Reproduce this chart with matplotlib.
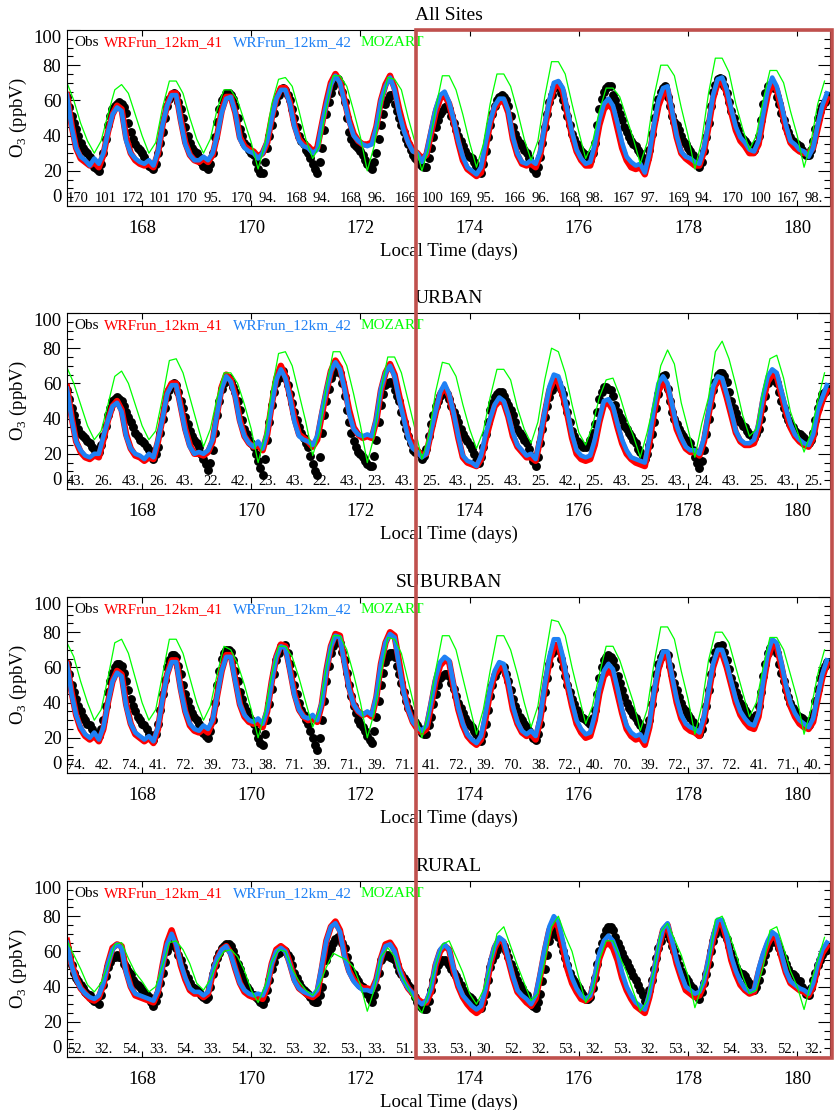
import numpy as np
import matplotlib.pyplot as plt
from matplotlib.patches import Rectangle

plt.rcParams['font.family'] = 'Liberation Serif'
plt.rcParams['mathtext.fontset'] = 'custom'
plt.rcParams['mathtext.rm'] = 'Liberation Serif'

# local time axis: obs hourly, WRF every 2 h, MOZART every 3 h
t_start = 166.625
t_end = 180.6

# ---------------- All Sites ----------------
obs_all = [
    62, 56, 51, 47, 44, 40, 36, 33, 31, 30, 28, 25, 22, 21, 20, 24, 30, 38, 46, 51, 55, 57, 58, 59,
    58, 56, 53, 47, 42, 38, 35, 33, 32, 30, 28, 25, 23, 22, 21, 24, 30, 36, 42, 50, 57, 61, 63, 64,
    63, 59, 55, 50, 45, 40, 36, 33, 31, 30, 28, 25, 23, 22, 21, 24, 30, 39, 48, 55, 60, 62, 64, 64,
    63, 61, 57, 50, 44, 40, 36, 34, 32, 30, 29, 25, 21, 19, 19, 25, 33, 40, 46, 53, 59, 63, 66, 67,
    66, 63, 60, 55, 50, 45, 40, 37, 35, 32, 30, 27, 24, 21, 19, 25, 33, 43, 52, 59, 64, 68, 71, 72,
    70, 65, 59, 50, 42, 38, 35, 34, 33, 31, 29, 26, 24, 22, 21, 25, 30, 38, 46, 52, 58, 61, 63, 63,
    58, 54, 50, 46, 42, 38, 35, 32, 29, 27, 26, 24, 23, 22, 22, 27, 33, 39, 45, 49, 52, 54, 56, 57,
    55, 51, 47, 43, 40, 37, 34, 31, 29, 28, 27, 25, 23, 21, 19, 24, 31, 39, 46, 52, 57, 60, 62, 63,
    62, 60, 57, 51, 45, 41, 38, 36, 34, 32, 30, 27, 24, 21, 19, 22, 28, 36, 45, 52, 59, 63, 67, 69,
    68, 64, 60, 56, 51, 46, 41, 38, 35, 33, 31, 30, 29, 28, 26, 30, 36, 46, 55, 61, 65, 67, 68, 68,
    63, 60, 56, 52, 49, 45, 42, 39, 37, 35, 34, 32, 30, 27, 24, 27, 32, 41, 50, 56, 61, 65, 67, 68,
    62, 57, 51, 48, 46, 43, 40, 37, 35, 33, 31, 29, 27, 24, 22, 25, 31, 39, 47, 57, 65, 69, 72, 73,
    72, 68, 64, 59, 54, 50, 46, 43, 40, 38, 37, 35, 33, 32, 32, 35, 40, 49, 58, 64, 68, 69, 69, 67,
    62, 58, 53, 49, 45, 42, 39, 37, 36, 35, 34, 32, 30, 29, 29, 32, 37, 44, 50, 54, 57, 59, 61, 62,
]
wrf41_all = [
    63, 46, 33, 27, 25, 23, 25, 22, 29, 42, 52, 57,
    55, 39, 30, 26, 24, 23, 24, 22, 30, 46, 57, 64,
    64, 49, 36, 29, 26, 25, 27, 25, 29, 40, 54, 62,
    62, 53, 39, 34, 32, 31, 28, 30, 36, 50, 61, 67,
    67, 59, 46, 38, 35, 34, 31, 33, 46, 59, 70, 75,
    71, 60, 49, 41, 37, 35, 35, 36, 45, 60, 69, 74,
    67, 55, 45, 37, 32, 30, 27, 29, 41, 53, 61, 63,
    58, 48, 36, 26, 21, 19, 17, 19, 33, 47, 56, 59,
    60, 53, 38, 29, 24, 23, 24, 22, 29, 44, 58, 67,
    70, 65, 52, 40, 31, 26, 23, 23, 32, 46, 55, 58,
    55, 44, 33, 26, 22, 21, 22, 18, 28, 44, 57, 64,
    66, 52, 39, 30, 27, 25, 23, 23, 31, 45, 61, 70,
    71, 64, 53, 43, 37, 34, 30, 30, 35, 50, 63, 70,
    66, 56, 44, 36, 33, 31, 30, 30, 33, 44, 55, 61,
]
wrf42_all = [
    63, 45, 33, 28, 26, 23, 27, 24, 30, 42, 52, 56,
    54, 37, 30, 27, 25, 24, 26, 23, 31, 46, 57, 63,
    63, 48, 35, 29, 26, 26, 28, 26, 30, 40, 53, 61,
    62, 53, 38, 33, 31, 30, 27, 30, 37, 50, 61, 66,
    66, 58, 45, 37, 34, 33, 30, 32, 46, 58, 69, 74,
    70, 59, 48, 40, 37, 35, 34, 35, 45, 60, 68, 73,
    66, 53, 43, 36, 31, 30, 25, 30, 43, 55, 63, 65,
    59, 49, 37, 28, 22, 20, 18, 22, 36, 48, 57, 61,
    61, 54, 39, 30, 25, 24, 26, 24, 31, 46, 60, 70,
    71, 67, 54, 42, 32, 27, 24, 25, 35, 49, 58, 61,
    57, 47, 36, 28, 25, 23, 24, 19, 30, 46, 60, 67,
    68, 54, 40, 31, 28, 27, 25, 24, 33, 47, 63, 72,
    73, 66, 55, 45, 39, 36, 32, 31, 37, 52, 66, 73,
    68, 58, 46, 37, 35, 32, 31, 28, 33, 46, 57, 64,
]
moz_all = [
    70, 60, 47, 37, 30, 37, 52, 66,
    69, 64, 52, 40, 30, 36, 56, 71,
    71, 64, 50, 38, 30, 38, 55, 66,
    66, 60, 48, 36, 21, 35, 58, 72,
    73, 68, 54, 38, 27, 34, 56, 74,
    74, 68, 54, 39, 20, 34, 56, 73,
    72, 66, 50, 36, 20, 33, 55, 74,
    74, 66, 52, 36, 22, 35, 58, 75,
    75, 68, 54, 38, 26, 37, 62, 82,
    82, 75, 58, 42, 27, 36, 54, 67,
    67, 62, 50, 38, 24, 36, 62, 80,
    80, 74, 56, 40, 21, 37, 64, 84,
    84, 76, 58, 44, 32, 40, 60, 77,
    77, 70, 54, 40, 22, 36, 58, 71,
]
n_all = [170, 101, 172, 101, 170, 95, 170, 94, 168, 94, 168, 96, 166, 100,
         169, 95, 166, 96, 168, 98, 167, 97, 169, 94, 170, 100, 167, 98]

# ---------------- URBAN ----------------
obs_urban = [
    56, 51, 46, 42, 38, 34, 31, 30, 29, 27, 26, 24, 23, 22, 21, 25, 30, 36, 42, 46, 50, 51, 52, 51,
    50, 47, 44, 41, 38, 35, 32, 30, 28, 27, 26, 24, 22, 19, 17, 20, 24, 32, 40, 46, 52, 56, 59, 60,
    59, 55, 50, 46, 41, 37, 33, 30, 28, 26, 24, 20, 17, 14, 11, 15, 22, 32, 42, 50, 57, 60, 62, 63,
    61, 58, 55, 50, 45, 39, 34, 31, 28, 26, 24, 20, 16, 12, 8, 17, 28, 38, 48, 55, 60, 63, 66, 67,
    63, 59, 54, 49, 44, 39, 35, 32, 29, 26, 24, 19, 14, 10, 8, 18, 32, 42, 50, 57, 63, 66, 68, 69,
    66, 60, 53, 45, 38, 32, 27, 24, 21, 20, 18, 16, 14, 13, 13, 19, 28, 38, 48, 54, 59, 60, 61, 60,
    56, 53, 50, 44, 38, 34, 30, 26, 22, 21, 21, 20, 17, 19, 23, 30, 37, 42, 47, 50, 53, 54, 55, 54,
    51, 47, 44, 41, 38, 34, 31, 29, 27, 25, 23, 20, 16, 15, 18, 24, 31, 38, 45, 49, 52, 54, 55, 55,
    53, 50, 48, 45, 42, 38, 34, 32, 30, 28, 26, 23, 19, 16, 13, 18, 26, 34, 41, 47, 52, 56, 59, 60,
    60, 57, 54, 49, 44, 38, 33, 30, 27, 26, 25, 24, 24, 25, 28, 32, 37, 44, 51, 55, 58, 58, 57, 56,
    53, 48, 44, 41, 39, 36, 34, 32, 30, 28, 26, 23, 21, 19, 17, 20, 25, 31, 38, 46, 54, 60, 64, 65,
    57, 50, 44, 40, 37, 34, 32, 30, 28, 27, 26, 22, 18, 15, 12, 16, 22, 31, 40, 48, 56, 61, 65, 66,
    66, 64, 61, 55, 50, 46, 43, 40, 38, 36, 35, 33, 31, 30, 29, 31, 34, 40, 46, 53, 60, 62, 63, 62,
    60, 55, 50, 46, 42, 39, 37, 35, 33, 32, 31, 30, 29, 27, 26, 28, 32, 39, 46, 50, 54, 55, 56, 57,
]
wrf41_urban = [
    58, 41, 27, 21, 18, 17, 19, 18, 28, 39, 47, 50,
    45, 31, 23, 19, 18, 16, 18, 17, 27, 40, 55, 60,
    60, 47, 34, 25, 20, 20, 19, 21, 27, 43, 58, 65,
    62, 53, 39, 30, 26, 24, 25, 22, 31, 48, 63, 70,
    64, 53, 40, 31, 29, 27, 24, 28, 42, 55, 67, 73,
    69, 58, 45, 35, 31, 29, 30, 29, 39, 56, 66, 71,
    65, 53, 42, 31, 24, 22, 19, 20, 32, 43, 54, 58,
    53, 42, 29, 18, 15, 14, 13, 17, 28, 38, 47, 50,
    49, 41, 30, 24, 21, 18, 18, 16, 28, 43, 56, 62,
    61, 53, 42, 29, 20, 17, 16, 17, 25, 38, 48, 49,
    45, 35, 26, 20, 17, 15, 14, 13, 26, 43, 56, 60,
    58, 46, 34, 28, 23, 21, 21, 19, 27, 42, 56, 62,
    61, 52, 42, 32, 27, 25, 25, 26, 35, 50, 61, 65,
    64, 54, 44, 35, 30, 27, 25, 24, 29, 42, 50, 56,
]
wrf42_urban = [
    57, 40, 27, 22, 19, 18, 20, 20, 30, 39, 47, 49,
    44, 30, 23, 20, 19, 17, 20, 18, 28, 40, 54, 59,
    59, 46, 33, 24, 20, 21, 20, 22, 28, 43, 57, 64,
    61, 52, 38, 30, 26, 24, 27, 23, 32, 48, 62, 68,
    63, 52, 38, 30, 28, 27, 25, 30, 44, 56, 67, 72,
    68, 57, 43, 34, 31, 30, 31, 30, 40, 57, 66, 70,
    64, 51, 40, 29, 23, 21, 18, 20, 33, 44, 55, 60,
    54, 43, 30, 19, 16, 15, 13, 19, 31, 40, 48, 52,
    50, 42, 32, 25, 22, 19, 20, 17, 30, 44, 58, 65,
    64, 56, 44, 31, 22, 19, 18, 19, 28, 40, 50, 51,
    47, 37, 28, 22, 18, 17, 16, 15, 29, 46, 60, 64,
    60, 48, 36, 29, 24, 22, 22, 20, 29, 44, 58, 64,
    63, 54, 44, 33, 28, 26, 26, 28, 37, 53, 64, 68,
    66, 56, 46, 37, 31, 28, 26, 25, 31, 45, 52, 59,
]
moz_urban = [
    69, 60, 48, 36, 28, 33, 48, 64,
    67, 60, 48, 36, 28, 33, 52, 73,
    74, 66, 52, 38, 24, 34, 52, 66,
    66, 60, 48, 34, 15, 30, 56, 77,
    78, 70, 54, 38, 19, 32, 58, 78,
    78, 70, 54, 36, 15, 30, 56, 75,
    75, 66, 50, 34, 17, 30, 55, 72,
    71, 64, 48, 34, 23, 33, 52, 68,
    68, 62, 46, 34, 26, 38, 62, 80,
    78, 66, 48, 32, 25, 36, 52, 62,
    63, 53, 40, 30, 18, 32, 49, 70,
    79, 71, 49, 34, 18, 37, 52, 78,
    84, 74, 59, 42, 30, 34, 56, 74,
    76, 63, 44, 33, 21, 32, 50, 66,
]
n_urban = [43, 26, 43, 26, 43, 22, 42, 23, 43, 22, 43, 23, 43, 25,
           43, 25, 43, 25, 42, 25, 43, 25, 43, 24, 43, 25, 43, 25]

# ---------------- SUBURBAN ----------------
obs_sub = [
    62, 56, 50, 46, 42, 38, 35, 32, 30, 28, 27, 25, 23, 22, 21, 25, 30, 38, 46, 52, 57, 60, 62, 62,
    61, 57, 52, 47, 42, 38, 35, 32, 30, 28, 27, 25, 22, 20, 19, 22, 28, 36, 45, 53, 60, 64, 67, 67,
    66, 61, 56, 50, 45, 41, 37, 34, 32, 30, 28, 25, 23, 21, 20, 24, 30, 40, 50, 58, 65, 68, 70, 70,
    69, 64, 58, 52, 46, 42, 38, 35, 32, 30, 28, 24, 20, 17, 16, 22, 30, 39, 48, 56, 64, 68, 72, 72,
    73, 68, 62, 56, 50, 45, 40, 36, 33, 30, 28, 24, 20, 16, 13, 20, 30, 41, 52, 61, 68, 72, 75, 75,
    74, 69, 64, 57, 50, 44, 38, 34, 30, 28, 26, 24, 21, 19, 17, 24, 32, 41, 50, 57, 63, 66, 68, 68,
    66, 61, 56, 51, 46, 41, 37, 34, 31, 29, 27, 25, 23, 22, 22, 27, 32, 39, 45, 50, 54, 55, 56, 56,
    55, 51, 48, 44, 40, 37, 34, 31, 29, 27, 26, 24, 22, 20, 18, 22, 28, 36, 44, 50, 55, 58, 60, 61,
    60, 56, 52, 47, 42, 38, 35, 32, 30, 28, 26, 24, 22, 20, 19, 22, 28, 37, 46, 54, 62, 68, 72, 72,
    70, 65, 60, 55, 50, 46, 42, 39, 36, 34, 32, 31, 30, 29, 28, 31, 36, 45, 54, 60, 64, 66, 67, 66,
    64, 60, 55, 51, 47, 43, 40, 37, 35, 33, 31, 29, 27, 25, 23, 26, 30, 39, 48, 56, 62, 66, 68, 68,
    67, 61, 56, 51, 47, 43, 40, 37, 35, 33, 31, 29, 27, 24, 22, 25, 30, 38, 47, 56, 64, 69, 72, 72,
    73, 69, 64, 59, 54, 50, 46, 43, 40, 38, 36, 34, 32, 31, 30, 33, 38, 46, 55, 62, 68, 71, 72, 71,
    68, 62, 57, 52, 47, 43, 40, 37, 35, 33, 32, 31, 30, 28, 27, 30, 34, 41, 48, 54, 58, 61, 63, 63,
]
wrf41_sub = [
    62, 46, 33, 25, 21, 19, 21, 18, 25, 40, 52, 58,
    56, 39, 28, 22, 20, 18, 20, 17, 25, 42, 56, 64,
    64, 48, 35, 27, 24, 23, 25, 23, 29, 44, 58, 67,
    67, 53, 39, 32, 29, 28, 29, 26, 35, 52, 66, 73,
    72, 59, 45, 36, 32, 30, 31, 29, 39, 58, 72, 79,
    78, 63, 49, 39, 35, 33, 34, 32, 43, 62, 74, 80,
    78, 63, 47, 36, 29, 25, 23, 25, 38, 52, 61, 64,
    63, 49, 36, 27, 21, 18, 16, 19, 31, 46, 56, 60,
    60, 50, 36, 28, 23, 21, 22, 19, 30, 48, 63, 72,
    73, 63, 50, 38, 28, 23, 20, 21, 30, 45, 55, 58,
    56, 45, 34, 25, 21, 19, 20, 16, 26, 44, 59, 67,
    67, 53, 40, 31, 26, 24, 23, 21, 30, 45, 60, 68,
    68, 60, 50, 40, 33, 29, 26, 25, 32, 50, 65, 73,
    72, 61, 48, 38, 32, 28, 26, 25, 29, 42, 54, 62,
]
wrf42_sub = [
    62, 45, 33, 26, 22, 20, 23, 19, 26, 40, 52, 57,
    55, 38, 28, 23, 21, 19, 21, 18, 26, 42, 56, 63,
    63, 47, 35, 28, 25, 24, 27, 25, 30, 44, 58, 66,
    66, 52, 39, 33, 30, 29, 31, 28, 36, 52, 66, 72,
    71, 58, 44, 36, 32, 31, 33, 30, 40, 58, 72, 78,
    77, 62, 48, 39, 35, 33, 35, 33, 44, 62, 74, 79,
    77, 61, 46, 36, 29, 26, 24, 27, 40, 54, 63, 66,
    64, 50, 37, 28, 22, 19, 17, 21, 34, 48, 58, 63,
    62, 52, 38, 29, 24, 22, 24, 21, 32, 50, 66, 76,
    76, 66, 52, 40, 30, 25, 22, 23, 33, 48, 58, 62,
    59, 48, 36, 27, 23, 21, 22, 18, 28, 46, 61, 69,
    69, 55, 42, 33, 28, 26, 25, 23, 32, 47, 62, 70,
    70, 62, 52, 42, 35, 31, 28, 27, 34, 52, 68, 76,
    74, 63, 50, 40, 34, 30, 28, 26, 31, 44, 56, 64,
]
moz_sub = [
    74, 66, 52, 40, 30, 36, 54, 74,
    76, 68, 54, 40, 30, 36, 56, 76,
    76, 68, 54, 40, 30, 38, 56, 72,
    70, 62, 50, 36, 20, 34, 56, 72,
    72, 66, 54, 40, 26, 36, 60, 78,
    78, 70, 56, 40, 20, 34, 56, 77,
    76, 68, 52, 36, 20, 34, 58, 78,
    78, 70, 54, 38, 22, 36, 58, 78,
    78, 70, 56, 40, 26, 38, 64, 87,
    86, 78, 60, 44, 28, 38, 56, 72,
    72, 64, 52, 40, 24, 36, 62, 83,
    83, 76, 58, 42, 22, 38, 64, 80,
    80, 74, 60, 46, 32, 40, 60, 77,
    77, 70, 56, 42, 22, 36, 56, 70,
]
n_sub = [74, 42, 74, 41, 72, 39, 73, 38, 71, 39, 71, 39, 71, 41,
         72, 39, 70, 38, 72, 40, 70, 39, 72, 37, 72, 41, 71, 40]

# ---------------- RURAL ----------------
obs_rural = [
    62, 57, 52, 48, 45, 43, 41, 39, 37, 36, 35, 33, 32, 31, 30, 35, 41, 46, 51, 54, 56, 57, 58, 57,
    56, 53, 51, 49, 47, 44, 42, 41, 40, 38, 37, 35, 34, 31, 29, 32, 36, 42, 48, 54, 60, 63, 66, 65,
    62, 58, 55, 51, 48, 45, 42, 40, 39, 38, 37, 35, 34, 33, 34, 40, 47, 52, 56, 59, 62, 63, 64, 64,
    63, 60, 57, 53, 50, 46, 43, 40, 38, 36, 35, 34, 33, 31, 30, 33, 38, 44, 50, 54, 58, 59, 60, 61,
    60, 58, 56, 52, 48, 45, 42, 40, 38, 37, 36, 34, 32, 31, 31, 35, 40, 48, 55, 59, 62, 65, 67, 68,
    68, 65, 62, 57, 52, 49, 47, 45, 43, 41, 40, 38, 36, 33, 31, 35, 40, 48, 55, 57, 58, 58, 57, 56,
    55, 52, 49, 47, 45, 43, 41, 39, 37, 34, 31, 29, 28, 27, 27, 32, 38, 44, 49, 52, 54, 55, 55, 54,
    52, 50, 48, 46, 44, 41, 38, 36, 35, 34, 33, 31, 29, 28, 28, 31, 36, 44, 51, 55, 58, 61, 64, 65,
    63, 60, 57, 53, 50, 47, 44, 41, 39, 37, 35, 32, 30, 29, 28, 31, 36, 43, 50, 58, 66, 70, 73, 74,
    68, 64, 60, 56, 52, 48, 45, 43, 41, 39, 37, 35, 33, 33, 34, 39, 45, 53, 60, 65, 69, 72, 74, 74,
    72, 68, 65, 62, 59, 56, 54, 51, 49, 46, 44, 41, 38, 35, 32, 34, 38, 44, 50, 56, 62, 66, 70, 71,
    70, 67, 63, 60, 56, 52, 49, 47, 45, 43, 41, 39, 37, 35, 33, 37, 42, 47, 53, 60, 66, 70, 73, 74,
    73, 70, 67, 63, 59, 55, 51, 49, 48, 47, 46, 44, 42, 40, 38, 40, 44, 49, 54, 58, 62, 65, 67, 67,
    65, 62, 59, 56, 53, 50, 48, 47, 46, 44, 43, 40, 38, 36, 35, 39, 44, 48, 52, 55, 58, 60, 61, 62,
]
wrf41_rural = [
    66, 53, 45, 39, 36, 33, 32, 34, 41, 53, 62, 64,
    63, 49, 40, 35, 34, 33, 32, 31, 37, 52, 65, 72,
    64, 52, 44, 38, 36, 36, 34, 36, 47, 56, 61, 63,
    59, 50, 42, 37, 35, 34, 34, 33, 40, 53, 61, 63,
    61, 53, 44, 39, 37, 35, 34, 36, 50, 66, 74, 77,
    72, 58, 49, 44, 41, 39, 39, 38, 44, 56, 64, 65,
    61, 51, 44, 39, 36, 33, 31, 31, 37, 52, 60, 63,
    61, 49, 40, 34, 30, 27, 25, 27, 37, 52, 62, 67,
    65, 55, 45, 37, 34, 31, 29, 33, 46, 60, 72, 77,
    74, 62, 50, 42, 37, 33, 32, 34, 44, 56, 63, 65,
    62, 55, 45, 38, 33, 29, 27, 25, 34, 47, 61, 72,
    75, 64, 53, 45, 38, 36, 34, 35, 41, 54, 67, 76,
    76, 67, 55, 47, 41, 38, 36, 37, 48, 57, 64, 69,
    67, 57, 48, 42, 40, 38, 37, 35, 40, 51, 59, 63,
]
wrf42_rural = [
    65, 52, 44, 39, 36, 34, 33, 35, 42, 53, 61, 64,
    62, 48, 40, 36, 35, 34, 33, 32, 38, 52, 64, 70,
    64, 53, 45, 39, 37, 37, 35, 37, 49, 56, 61, 63,
    58, 50, 42, 38, 36, 35, 36, 35, 41, 53, 60, 62,
    60, 52, 43, 39, 37, 36, 35, 38, 52, 66, 74, 76,
    71, 57, 48, 43, 40, 38, 38, 37, 44, 56, 63, 64,
    60, 50, 43, 39, 36, 32, 30, 32, 39, 53, 61, 64,
    61, 50, 41, 35, 32, 29, 27, 29, 39, 54, 63, 68,
    66, 56, 46, 38, 35, 33, 30, 35, 48, 62, 74, 80,
    77, 66, 54, 45, 39, 35, 33, 35, 46, 59, 66, 69,
    66, 59, 48, 40, 35, 31, 29, 27, 36, 49, 63, 73,
    76, 66, 55, 47, 40, 38, 36, 37, 43, 56, 69, 78,
    78, 69, 57, 49, 43, 39, 37, 38, 50, 59, 66, 71,
    69, 59, 49, 43, 41, 39, 38, 36, 42, 53, 61, 65,
]
moz_rural = [
    66, 58, 50, 41, 37, 42, 52, 64,
    65, 56, 48, 43, 37, 40, 52, 65,
    66, 61, 53, 42, 38, 44, 54, 60,
    61, 57, 49, 38, 31, 40, 54, 61,
    60, 50, 43, 38, 35, 41, 51, 59,
    57, 55, 51, 41, 26, 38, 57, 62,
    57, 46, 39, 31, 25, 36, 52, 64,
    66, 57, 48, 36, 30, 38, 51, 70,
    74, 63, 52, 42, 32, 36, 54, 74,
    80, 69, 60, 45, 31, 38, 55, 66,
    66, 57, 48, 37, 26, 32, 49, 71,
    76, 67, 58, 46, 28, 40, 53, 78,
    80, 70, 59, 46, 36, 38, 51, 72,
    74, 62, 49, 40, 27, 42, 55, 68,
]
n_rural = [52, 32, 54, 33, 54, 33, 54, 32, 53, 32, 53, 33, 51, 33,
           53, 30, 52, 32, 53, 32, 53, 32, 53, 32, 54, 33, 52, 32]

panels = [
    ("All Sites", obs_all, wrf41_all, wrf42_all, moz_all, n_all),
    ("URBAN", obs_urban, wrf41_urban, wrf42_urban, moz_urban, n_urban),
    ("SUBURBAN", obs_sub, wrf41_sub, wrf42_sub, moz_sub, n_sub),
    ("RURAL", obs_rural, wrf41_rural, wrf42_rural, moz_rural, n_rural),
]

t1 = t_start + np.arange(len(obs_all)) / 24.0
t2 = t_start + np.arange(len(wrf41_all)) / 12.0
t3 = t_start + np.arange(len(moz_all)) / 8.0

W, H = 836, 1110
fig = plt.figure(figsize=(W / 100, H / 100), dpi=100)

blue = '#1e80f5'
tops = [30, 313, 597, 881]
ax_h = 176
for top, (title, obs, w41, w42, moz, counts) in zip(tops, panels):
    ax = fig.add_axes([67 / W, 1 - (top + ax_h) / H, 763 / W, ax_h / H])
    ax.plot(t1, obs, 'o', color='black', ms=6.4, mew=0)
    ax.plot(t2, w41, color='red', lw=4.6, solid_joinstyle='round')
    ax.plot(t2, w42, color=blue, lw=3.3, solid_joinstyle='round')
    ax.plot(t3, moz, color='#00ff00', lw=0.9)

    ax.set_xlim(t_start, t_end)
    ax.set_ylim(0, 100)
    ax.set_xticks(np.arange(168, 181, 2))
    ax.set_yticks(np.arange(0, 101, 20))
    ax.set_yticks(np.arange(0, 101, 5), minor=True)
    ax.tick_params(which='both', direction='in', top=True, right=True,
                   labelsize=13.5, width=0.8)
    ax.tick_params(axis='y', which='major', length=9, pad=4)
    ax.tick_params(axis='y', which='minor', length=4.5)
    ax.tick_params(axis='x', which='major', length=4, pad=10)
    labels = ax.get_yticklabels()
    labels[0].set_va('bottom')
    labels[-1].set_va('top')
    for s in ax.spines.values():
        s.set_linewidth(0.8)

    ax.set_title(title, fontsize=14, pad=7)
    ax.set_xlabel('Local Time (days)', fontsize=13.5, labelpad=4)
    ax.set_ylabel(r'O$_\mathrm{3}$ (ppbV)', fontsize=13.5, labelpad=3)

    # series names across the top left
    for x, name, c in [(0.010, 'Obs', 'black'), (0.048, 'WRFrun_12km_41', 'red'),
                       (0.217, 'WRFrun_12km_42', blue), (0.385, 'MOZART', '#00ff00')]:
        ax.text(x, 0.93, name, color=c, fontsize=11, va='center',
                transform=ax.transAxes)

    # number of sites reporting, every 12 h (printed as truncated floats)
    for k, c in enumerate(counts):
        ax.text(t_start + 0.5 * k, 0.6, str(float(c))[:3], fontsize=10.5,
                va='bottom', ha='left', clip_on=True)

fig.add_artist(Rectangle((416 / W, 1 - 1058 / H), 416 / W, 1028 / H,
                         transform=fig.transFigure, fill=False,
                         ec='#c0504d', lw=2.6))

fig.savefig('out.png', dpi=100)
